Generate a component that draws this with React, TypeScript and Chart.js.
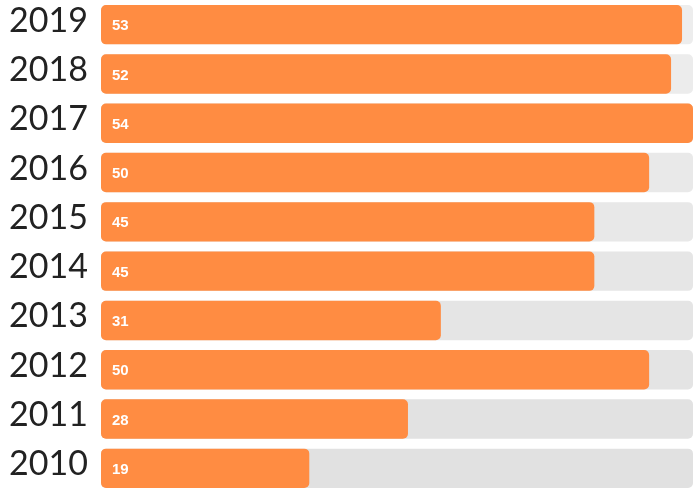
import React, { useEffect, useRef } from "react";
import { Chart, registerables } from "chart.js";

Chart.register(...registerables);

const years = ["2019", "2018", "2017", "2016", "2015", "2014", "2013", "2012", "2011", "2010"];
const values = [53, 52, 54, 50, 45, 45, 31, 50, 28, 19];
const maxValue = 54;
const trackValues = years.map(() => maxValue);

const valueLabels = {
  id: "valueLabels",
  afterDatasetsDraw(chart: any) {
    const meta = chart.getDatasetMeta(0);
    const ctx = chart.ctx;
    ctx.save();
    ctx.fillStyle = "#ffffff";
    ctx.font = "bold 15px 'Liberation Sans', Arial, sans-serif";
    ctx.textBaseline = "middle";
    ctx.textAlign = "left";
    meta.data.forEach((bar: any, i: number) => {
      const left = bar.base;
      ctx.fillText(String(values[i]), left + 11, bar.y + 1.5);
    });
    ctx.restore();
  },
};

export default function App() {
  const ref = useRef<HTMLCanvasElement>(null);
  useEffect(() => {
    document.body.style.margin = "0";
    const c = new Chart(ref.current!, {
      type: "bar",
      data: {
        labels: years,
        datasets: [
          {
            data: values,
            backgroundColor: "#ff8c42",
            borderRadius: 5,
            borderSkipped: false,
            grouped: false,
            barPercentage: 0.8,
            categoryPercentage: 1,
          },
          {
            data: trackValues,
            backgroundColor: (ctx: any) => {
              const i = ctx.dataIndex ?? 0;
              const g = Math.round(237 - (i / 9) * 12);
              return `rgb(${g},${g},${g})`;
            },
            borderRadius: 5,
            borderSkipped: false,
            grouped: false,
            barPercentage: 0.8,
            categoryPercentage: 1,
          },
        ],
      },
      options: {
        indexAxis: "y",
        animation: false,
        responsive: false,
        layout: { padding: { top: 0, bottom: 5, right: 7, left: 0 } },
        plugins: { legend: { display: false }, tooltip: { enabled: false } },
        scales: {
          x: {
            min: 0,
            max: maxValue,
            display: false,
          },
          y: {
            grid: { display: false, drawTicks: false },
            border: { display: false },
            ticks: {
              color: "#222222",
              font: { family: "Lato", size: 34 },
              padding: 13,
              labelOffset: -4,
            },
            afterFit: (scale: any) => {
              scale.width = 101;
              scale.paddingTop = 0;
              scale.paddingBottom = 0;
            },
          },
        },
      },
      plugins: [valueLabels],
    });
    return () => c.destroy();
  }, []);
  return <canvas ref={ref} width={700} height={498} style={{ display: "block" }} />;
}
